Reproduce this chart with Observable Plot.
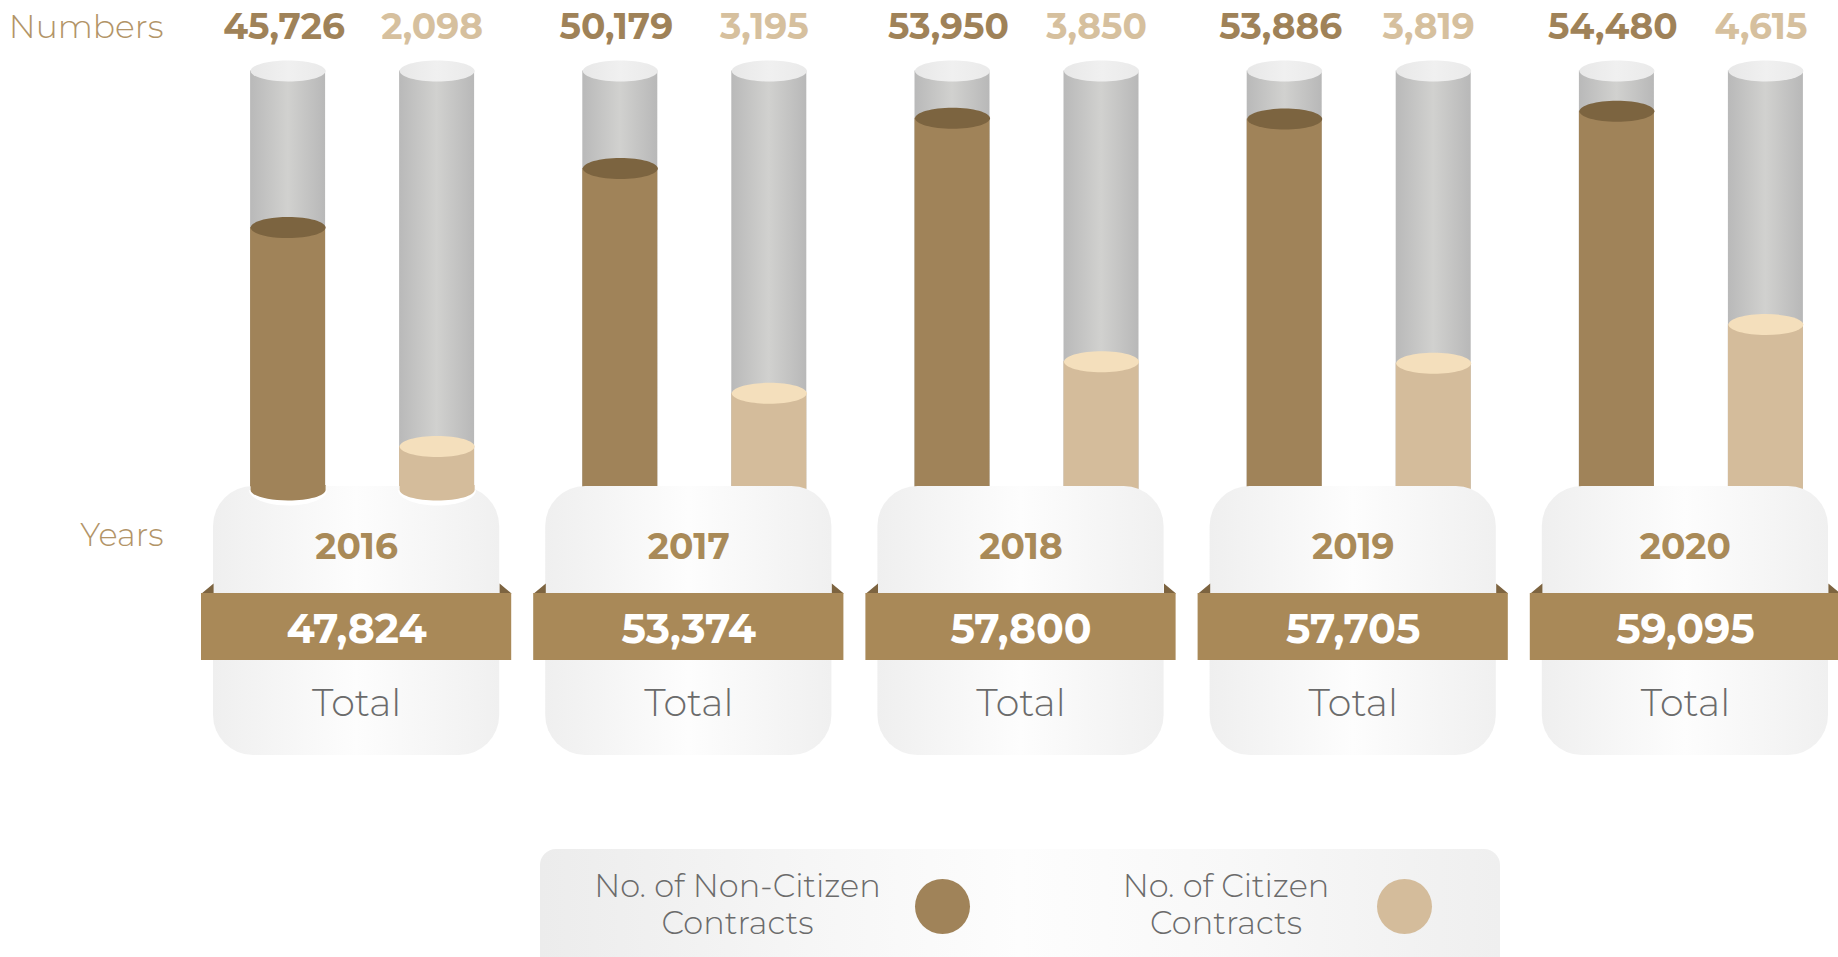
<!DOCTYPE html>
<html>
<head>
<meta charset="utf-8">
<script src="https://cdn.jsdelivr.net/npm/d3@7"></script>
<script src="https://cdn.jsdelivr.net/npm/@observablehq/plot@0.6"></script>
<style>
  html, body { margin: 0; padding: 0; background: #fff; overflow: hidden; width: 1838px; height: 957px; }
  #chart { position: absolute; left: 0; top: 0; }
  #legend { position: absolute; left: 540px; top: 849px; width: 960px; height: 130px; border-radius: 16px;
    background: linear-gradient(to right, #ececec 0%, #f6f6f6 28%, #fdfdfd 50%, #f8f8f8 72%, #efefef 100%);
    font-family: Montserrat, Inter, "Noto Sans", sans-serif; }
  .item-text { position: absolute; top: 18px; transform: translateX(-50%); text-align: center; font-size: 32px;
    font-weight: 300; line-height: 37px; color: #6b6b6b; white-space: nowrap; }
  .swatch { position: absolute; top: 30px; width: 55px; height: 55px; border-radius: 50%; }
</style>
</head>
<body>
<div id="chart"></div>
<div id="legend"></div>
<script>
// ---- data ----
const years = ["2016", "2017", "2018", "2019", "2020"];
const nonCitizen = [45726, 50179, 53950, 53886, 54480];
const citizen = [2098, 3195, 3850, 3819, 4615];
const totals = [47824, 53374, 57800, 57705, 59095];
const seriesNames = ["No. of Non-Citizen Contracts", "No. of Citizen Contracts"];
const seriesColors = ["#a08359", "#d4bc9b"];

// ---- table built from the arrays ----
const rows = years.map((year, i) => ({year, nc: nonCitizen[i], c: citizen[i], total: totals[i]}));
const fmt = d3.format(",");

// each series fills its own tube: a per-series level scale (0 = tube bottom, 1 = tube top)
const ncLevel = d3.scaleLinear().domain([26000, 57500]).range([0, 1]);
const cLevel = d3.scaleLinear().domain([1200, 9850]).range([0, 1]);

// ---- layout constants ----
const W = 1838, H = 840;
const X0 = 190, X1 = 1851;
const bandHalf = (X1 - X0) / years.length / 2;
const RX = 37.5, RY = 10.5;
const NCc = -68.5, Cc = 80.5;
const ins = (center, hw) => ({insetLeft: bandHalf + center - hw, insetRight: bandHalf - center - hw});
const KC = 0.5523;

function ellipse(k) {
  return {draw(ctx, size) {
    const rx = Math.sqrt(size / Math.PI), ry = rx * k, c = KC;
    ctx.moveTo(rx, 0);
    ctx.bezierCurveTo(rx, ry * c, rx * c, ry, 0, ry);
    ctx.bezierCurveTo(-rx * c, ry, -rx, ry * c, -rx, 0);
    ctx.bezierCurveTo(-rx, -ry * c, -rx * c, -ry, 0, -ry);
    ctx.bezierCurveTo(rx * c, -ry, rx, -ry * c, rx, 0);
    ctx.closePath();
  }};
}
// lower half of an ellipse, extended upward by `ext` pixels
function lowerHalf(k, ext) {
  return {draw(ctx, size) {
    const rx = Math.sqrt(size / Math.PI), ry = rx * k, c = KC;
    ctx.moveTo(-rx, -ext);
    ctx.lineTo(-rx, 0);
    ctx.bezierCurveTo(-rx, ry * c, -rx * c, ry, 0, ry);
    ctx.bezierCurveTo(rx * c, ry, rx, ry * c, rx, 0);
    ctx.lineTo(rx, -ext);
    ctx.closePath();
  }};
}
const ell = ellipse(RY / RX);
const fold = {draw(ctx) {
  ctx.moveTo(-155, 0); ctx.lineTo(-143, -10); ctx.lineTo(-143, 0); ctx.closePath();
  ctx.moveTo(143, -10); ctx.lineTo(155, 0); ctx.lineTo(143, 0); ctx.closePath();
}};

const FONT = 'Montserrat, Inter, "Noto Sans", sans-serif';

function cylinder(center, level, body, top) {
  return [
    Plot.barY(rows, {x: "year", y1: 0, y2: 1, fill: "url(#tube)", ...ins(center, RX)}),
    Plot.dot(rows, {x: "year", y: () => 1, r: RX, symbol: ell, fill: "url(#cap)", stroke: "none", dx: center}),
    Plot.barY(rows, {x: "year", y1: 0, y2: level, fill: body, ...ins(center, RX)}),
    Plot.dot(rows, {x: "year", y: level, r: RX, symbol: ell, fill: top, stroke: "none", dx: center})
  ];
}
// the first year's tubes stand in front of their box
const first = rows.filter(d => d.year === years[0]);
function frontBottom(center, body) {
  return [
    Plot.dot(first, {x: "year", y: () => 0, r: RX + 1.5, symbol: lowerHalf((RY + 5) / (RX + 1.5), 0), fill: "#ffffff", stroke: "none", dx: center}),
    Plot.dot(first, {x: "year", y: () => 0, r: RX, symbol: lowerHalf(RY / RX, 5), fill: body, stroke: "none", dx: center})
  ];
}

const svg = Plot.plot({
  width: W, height: H,
  marginTop: 0, marginRight: 0, marginBottom: 0, marginLeft: 0,
  x: {type: "band", domain: years, range: [X0, X1], padding: 0, round: false, axis: null},
  y: {domain: [0, 1], range: [489.5, 70.5], axis: null},
  style: {fontFamily: FONT, background: "transparent", overflow: "hidden"},
  marks: [
    ...cylinder(NCc, d => ncLevel(d.nc), seriesColors[0], "#7c6440"),
    ...cylinder(Cc, d => cLevel(d.c), seriesColors[1], "#f4dfbc"),
    // year boxes
    Plot.cell(rows, {x: "year", insetTop: 486, insetBottom: H - 755, insetLeft: 23, insetRight: 23, rx: 40, fill: "url(#box)"}),
    ...frontBottom(NCc, seriesColors[0]),
    ...frontBottom(Cc, seriesColors[1]),
    // ribbon with folds
    Plot.dot(rows, {x: "year", frameAnchor: "top", dy: 593, r: 1, symbol: fold, fill: "#7d6440", stroke: "none"}),
    Plot.cell(rows, {x: "year", insetTop: 593, insetBottom: H - 660, insetLeft: 11, insetRight: 11, fill: "#a98958"}),
    // top value labels
    Plot.text(["Numbers"], {text: d => d, frameAnchor: "top-left", dx: 163, dy: 37.5, textAnchor: "end", lineAnchor: "bottom", fontSize: 33, fontWeight: 300, fill: "#b29467"}),
    Plot.text(rows, {x: "year", text: d => fmt(d.nc), frameAnchor: "top", dx: NCc - 4, dy: 38, lineAnchor: "bottom", fontSize: 36, fontWeight: 700, fill: "#9f8258"}),
    Plot.text(rows, {x: "year", text: d => fmt(d.c), frameAnchor: "top", dx: Cc - 5, dy: 38, lineAnchor: "bottom", fontSize: 36, fontWeight: 700, fill: "#d6c09e"}),
    // box labels
    Plot.text(["Years"], {text: d => d, frameAnchor: "top-left", dx: 163, dy: 545, textAnchor: "end", lineAnchor: "bottom", fontSize: 32, fontWeight: 300, fill: "#b29467"}),
    Plot.text(rows, {x: "year", text: "year", frameAnchor: "top", dy: 558, lineAnchor: "bottom", fontSize: 36, fontWeight: 700, fill: "#a98a58"}),
    Plot.text(rows, {x: "year", text: d => fmt(d.total), frameAnchor: "top", dy: 642, lineAnchor: "bottom", fontSize: 41, fontWeight: 700, fill: "#ffffff"}),
    Plot.text(rows, {x: "year", text: () => "Total", frameAnchor: "top", dy: 715, lineAnchor: "bottom", fontSize: 38, fontWeight: 300, fill: "#6b6b6b"})
  ]
});

const defs = d3.select(svg).insert("defs", ":first-child");
function lg(id, stops) {
  const g = defs.append("linearGradient").attr("id", id).attr("x1", 0).attr("x2", 1).attr("y1", 0).attr("y2", 0);
  stops.forEach(([o, c]) => g.append("stop").attr("offset", o).attr("stop-color", c));
}
lg("tube", [[0, "#b9b9b9"], [0.5, "#d1d1cf"], [1, "#b8b8b8"]]);
lg("cap", [[0, "#e8e8e8"], [0.5, "#f0f0f0"], [1, "#eaeaea"]]);
lg("box", [[0, "#efefef"], [0.5, "#fdfdfd"], [1, "#f0f0f0"]]);
document.getElementById("chart").appendChild(svg);

// ---- legend (below the chart) ----
const legend = document.getElementById("legend");
const textCenters = [197.5, 686], swatchLefts = [374.5, 836.5];
seriesNames.forEach((name, i) => {
  const t = document.createElement("div");
  t.className = "item-text";
  t.style.left = textCenters[i] + "px";
  const k = name.lastIndexOf(" ");
  t.innerHTML = name.slice(0, k) + "<br>" + name.slice(k + 1);
  legend.appendChild(t);
  const s = document.createElement("div");
  s.className = "swatch";
  s.style.left = swatchLefts[i] + "px";
  s.style.background = seriesColors[i];
  legend.appendChild(s);
});
</script>
</body>
</html>
